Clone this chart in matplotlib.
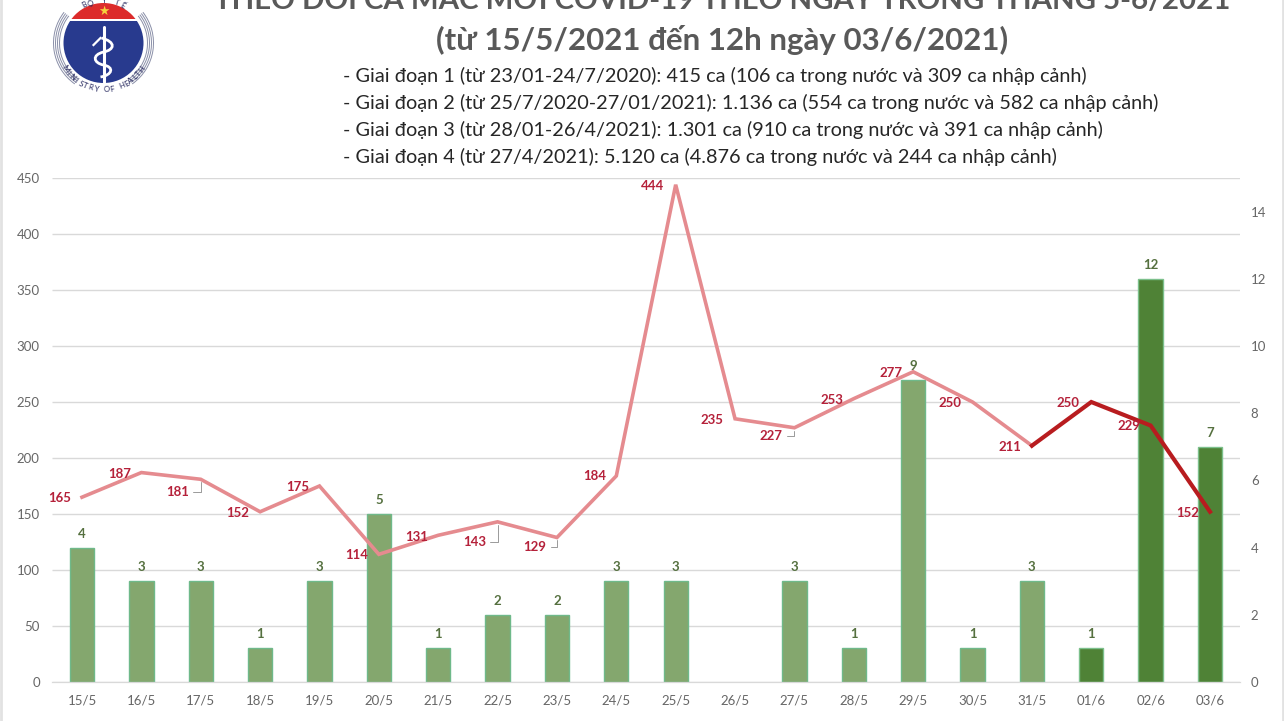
import numpy as np
import matplotlib
matplotlib.use('Agg')
import matplotlib.pyplot as plt
from matplotlib.patches import Arc, Circle, Rectangle, PathPatch
from matplotlib.path import Path

plt.rcParams['font.family'] = ['Lato', 'Noto Sans', 'DejaVu Sans']

dates = ['15/5', '16/5', '17/5', '18/5', '19/5', '20/5', '21/5', '22/5', '23/5', '24/5',
         '25/5', '26/5', '27/5', '28/5', '29/5', '30/5', '31/5', '01/6', '02/6', '03/6']
domestic = [165, 187, 181, 152, 175, 114, 131, 143, 129, 184,
            444, 235, 227, 253, 277, 250, 211, 250, 229, 152]
imported = [4, 3, 3, 1, 3, 5, 1, 2, 2, 3, 3, 0, 3, 1, 9, 1, 3, 1, 12, 7]
# label offsets in pixels from the point (dy is downwards)
label_dx = [-22, -22, -23, -22, -22, -22, -22, -23, -22, -22, -23, -23, -23, -22, -22, -23, -22, -23, -22, -22]
label_dy = [1, 1, 13, 1, 1, 1, 2, 20, 9, 0, 1, 1, 8, 1, 1, 1, 1, 1, 0, 1]
leader_idx = [2, 7, 8, 12]

title1 = 'THEO DÕI CA MẮC MỚI COVID-19 THEO NGÀY TRONG THÁNG 5-6/2021'
title2 = '(từ 15/5/2021 đến 12h ngày 03/6/2021)'
stages = ['- Giai đoạn 1 (từ 23/01-24/7/2020): 415 ca (106 ca trong nước và 309 ca nhập cảnh)',
          '- Giai đoạn 2 (từ 25/7/2020-27/01/2021): 1.136 ca (554 ca trong nước và 582 ca nhập cảnh)',
          '- Giai đoạn 3 (từ 28/01-26/4/2021): 1.301 ca (910 ca trong nước và 391 ca nhập cảnh)',
          '- Giai đoạn 4 (từ 27/4/2021): 5.120 ca (4.876 ca trong nước và 244 ca nhập cảnh)']

W, H = 1284, 721
GREEN_LIGHT = '#84a76e'
GREEN_DARK = '#4f8236'
RED_LIGHT = '#e58b8f'
RED_DARK = '#b81c1f'
LABEL_RED = '#b5213a'
GREY = '#666666'

fig = plt.figure(figsize=(W / 100, H / 100), dpi=100, facecolor='white')
ax = fig.add_axes([52.3 / W, 1 - 682 / H, (1239.7 - 52.3) / W, 504 / H])
ax2 = ax.twinx()

x = list(range(len(dates)))
ax.set_xlim(-0.5, 19.5)
ax.set_ylim(0, 450)
ax2.set_ylim(0, 15)
ax.set_yticks(range(0, 451, 50))
ax2.set_yticks(range(0, 15, 2))
ax.set_xticks(x)
ax.set_xticklabels(dates)
for a in (ax, ax2):
    for s in a.spines.values():
        s.set_visible(False)
    a.spines['bottom'].set_visible(True)
    a.spines['bottom'].set_color('#d9d9d9')
    a.tick_params(length=0, labelsize=9.5, labelcolor=GREY)
ax.tick_params(axis='y', pad=9)
ax.tick_params(axis='x', pad=9)
ax2.tick_params(axis='y', pad=8)

# bars sit on the right axis, line on the left one
ax2.set_zorder(1)
ax.set_zorder(2)
ax.patch.set_visible(False)
ax2.hlines(range(0, 451, 50), -0.5, 19.5, transform=ax.transData, color='#d9d9d9', lw=1, zorder=0)

bar_colors = [GREEN_DARK if i >= 17 else GREEN_LIGHT for i in x]
edge_colors = ['none' if imported[i] == 0 else '#6fb98a' if i < 17 else '#7cc08c' for i in x]
ax2.bar(x, imported, width=0.41, color=bar_colors, edgecolor=edge_colors, lw=1, zorder=2)
for i, v in zip(x, imported):
    if v > 0:
        ax2.annotate(str(v), (i, v), xytext=(0, 14), textcoords='offset pixels', ha='center',
                     va='center', fontsize=9.5, color='#55703f', fontweight='bold')

ax.plot(x[:17], domestic[:17], color=RED_LIGHT, lw=2.6, solid_joinstyle='miter')
ax.plot(x[16:], domestic[16:], color=RED_DARK, lw=3, solid_joinstyle='miter')
for i, v in enumerate(domestic):
    props = None
    if i in leader_idx:
        props = dict(arrowstyle='-', color='#9a9a9a', lw=0.7, shrinkA=1, shrinkB=2,
                     connectionstyle='angle,angleA=0,angleB=90,rad=0')
    ax.annotate(str(v), (i, v), xytext=(label_dx[i], -label_dy[i]), textcoords='offset pixels',
                ha='center', va='center', fontsize=9.5, color=LABEL_RED, fontweight='bold',
                arrowprops=props)

fig.text(722 / W, 1 - 9 / H, title1, ha='center', va='baseline', fontsize=21.2, color='#595959', fontweight='bold')
fig.text(722 / W, 1 - 50 / H, title2, ha='center', va='baseline', fontsize=22.5, color='#595959', fontweight='bold')
for i, line in enumerate(stages):
    fig.text(343 / W, 1 - (76 + i * 27) / H, line, ha='left', va='center', fontsize=14.35, color='#262626')

# logo
logo = fig.add_axes([0, 0, 1, 1], zorder=5)
logo.set_xlim(0, W)
logo.set_ylim(H, 0)
logo.axis('off')
cx, cy = 103.5, 43
for r in (50, 48, 46, 44):
    logo.add_patch(Arc((cx, cy), 2 * r, 2 * r, theta1=125, theta2=218, ec='#8a8fa8', lw=0.7))
    logo.add_patch(Arc((cx, cy), 2 * r, 2 * r, theta1=322, theta2=415, ec='#8a8fa8', lw=0.7))
disc = Circle((cx, cy), 40, fc='white', ec='none')
logo.add_patch(disc)
blue = Rectangle((cx - 41, 21), 82, 70, fc='#283a8e', ec='none')
red = Rectangle((cx - 41, 0), 82, 18.5, fc='#dc2b2b', ec='none')
for patch in (blue, red):
    logo.add_patch(patch)
    patch.set_clip_path(disc)
logo.text(cx, 11, '★', ha='center', va='center', fontsize=9, color='#f5d33c', family=['DejaVu Sans'])

# staff and snake
logo.plot([cx, cx], [27, 82], color='white', lw=2.2, solid_capstyle='round')
snake = Path([(cx - 2, 38), (cx + 13, 42), (cx + 11, 50), (cx, 52),
              (cx - 12, 55), (cx - 10, 63), (cx, 65),
              (cx + 11, 67), (cx + 9, 75), (cx - 3, 77)],
             [Path.MOVETO, Path.CURVE4, Path.CURVE4, Path.CURVE4,
              Path.CURVE4, Path.CURVE4, Path.CURVE4,
              Path.CURVE4, Path.CURVE4, Path.CURVE4])
logo.add_patch(PathPatch(snake, fc='none', ec='white', lw=2))
logo.plot([cx - 10, cx - 3], [45, 38], color='white', lw=1.6)

# curved lettering round the badge
for word, mid, radius, step, sign in (('MINISTRY OF HEALTH', 90, 46.5, 6.6, -1), ('BỘ Y TẾ', 270, 42.5, 9, 1)):
    for k, ch in enumerate(word):
        ang = mid + sign * (k - (len(word) - 1) / 2) * step
        logo.text(cx + radius * np.cos(np.radians(ang)), cy + radius * np.sin(np.radians(ang)), ch,
                  rotation=90 - ang if sign < 0 else 270 - ang, rotation_mode='anchor',
                  ha='center', va='center', fontsize=5.6, color='#23255c')

# page edges of the screenshot
logo.axvline(1, color='#e2e2e2', lw=2)
logo.axvline(1283, color='#e2e2e2', lw=2)

fig.savefig('out.png', dpi=100)
